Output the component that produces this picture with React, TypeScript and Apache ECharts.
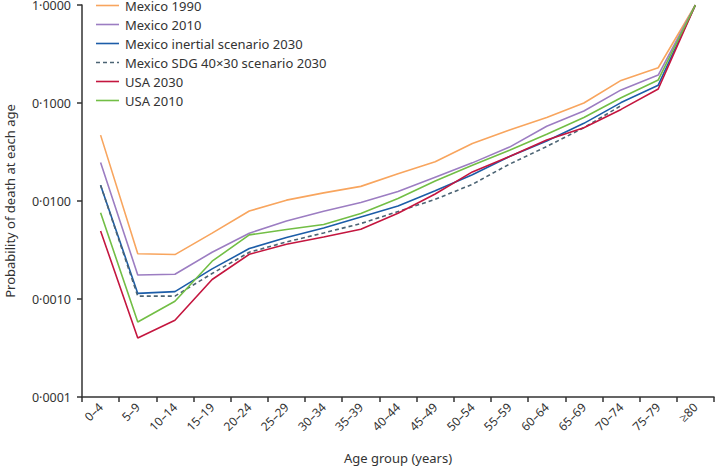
import React, { useEffect, useRef } from "react";
import * as echarts from "echarts";

const ageGroups = ["0–4", "5–9", "10–14", "15–19", "20–24", "25–29", "30–34", "35–39", "40–44", "45–49", "50–54", "55–59", "60–64", "65–69", "70–74", "75–79", "≥80"];

const mexico1990 = [0.047, 0.0029, 0.00284, 0.0047, 0.0079, 0.0102, 0.0121, 0.0141, 0.019, 0.0252, 0.0386, 0.053, 0.071, 0.1, 0.17, 0.229, 1.0];
const mexico2010 = [0.0247, 0.00176, 0.00179, 0.003, 0.00469, 0.00626, 0.00787, 0.00965, 0.0125, 0.0175, 0.0245, 0.0355, 0.058, 0.083, 0.136, 0.193, 1.0];
const mexicoInertial2030 = [0.0145, 0.00114, 0.00119, 0.00203, 0.00327, 0.00424, 0.00531, 0.00688, 0.0089, 0.0127, 0.0185, 0.0285, 0.041, 0.062, 0.101, 0.152, 1.0];
const mexicoSdg2030 = [0.0145, 0.00107, 0.00107, 0.00182, 0.003, 0.00382, 0.00472, 0.00589, 0.0078, 0.0104, 0.0148, 0.0238, 0.036, 0.056, 0.094, null, null];
const usa2030 = [0.00495, 0.0004, 0.000606, 0.00158, 0.00286, 0.00362, 0.0043, 0.00515, 0.0075, 0.0118, 0.0198, 0.0285, 0.042, 0.056, 0.086, 0.139, 1.0];
const usa2010 = [0.0076, 0.000582, 0.00095, 0.00243, 0.00451, 0.00512, 0.00575, 0.00745, 0.0106, 0.016, 0.0232, 0.033, 0.048, 0.071, 0.113, 0.172, 1.0];

const seriesDefs = [
  { name: "Mexico 1990", data: mexico1990, color: "#F8A55E", dashed: false },
  { name: "Mexico 2010", data: mexico2010, color: "#9C7DC2", dashed: false },
  { name: "Mexico inertial scenario 2030", data: mexicoInertial2030, color: "#1C5DA8", dashed: false },
  { name: "Mexico SDG 40×30 scenario 2030", data: mexicoSdg2030, color: "#4C6474", dashed: true },
  { name: "USA 2030", data: usa2030, color: "#C4163F", dashed: false },
  { name: "USA 2010", data: usa2010, color: "#72BE45", dashed: false },
];

const FONT = "'Noto Sans', 'Open Sans', sans-serif";
const TEXT = "#333333";
const DASH = [4, 3];

export default function App() {
  const ref = useRef<HTMLDivElement>(null);
  useEffect(() => {
    if (!ref.current) return;
    const chart = echarts.init(ref.current, undefined, { renderer: "svg" });
    const legendGraphics: any[] = [];
    seriesDefs.forEach((s, i) => {
      const yc = 5.5 + i * 19;
      legendGraphics.push({
        type: "line",
        shape: { x1: 96, y1: yc, x2: 119, y2: yc },
        style: { stroke: s.color, lineWidth: 1.6, lineDash: s.dashed ? DASH : null },
        silent: true,
      });
      legendGraphics.push({
        type: "text",
        x: 125,
        y: yc,
        style: { text: s.name, fill: TEXT, font: `13px ${FONT}`, verticalAlign: "middle", align: "left" },
        silent: true,
      });
    });
    chart.setOption({
      animation: false,
      textStyle: { fontFamily: FONT },
      graphic: legendGraphics,
      grid: { left: 82, right: 1, top: 5, bottom: 71, containLabel: false, outerBoundsMode: "none" },
      xAxis: {
        type: "category",
        data: ageGroups,
        boundaryGap: true,
        name: "Age group (years)",
        nameLocation: "middle",
        nameGap: 54,
        nameTextStyle: { fontFamily: FONT, fontSize: 13, color: TEXT },
        axisLine: { lineStyle: { color: "#333", width: 1.5 } },
        axisTick: { show: true, length: 5, interval: 0, lineStyle: { color: "#333", width: 1.5 } },
        axisLabel: { interval: 0, rotate: 45, margin: 8, fontFamily: FONT, fontSize: 12, color: TEXT },
        splitLine: { show: false },
      },
      yAxis: {
        type: "log",
        logBase: 10,
        min: 0.0001,
        max: 1,
        name: "Probability of death at each age",
        nameLocation: "middle",
        nameGap: 66,
        nameTextStyle: { fontFamily: FONT, fontSize: 13, color: TEXT },
        axisLine: { show: true, lineStyle: { color: "#333", width: 1.5 } },
        axisTick: { show: true, length: 5, lineStyle: { color: "#333", width: 1.5 } },
        axisLabel: {
          margin: 11,
          fontFamily: FONT,
          fontSize: 12.5,
          color: TEXT,
          formatter: (v: number) => v.toFixed(4).replace(".", "·"),
        },
        splitLine: { show: false },
      },
      series: seriesDefs.map((s) => ({
        name: s.name,
        type: "line",
        data: s.data,
        symbol: "none",
        connectNulls: false,
        itemStyle: { color: s.color },
        lineStyle: { color: s.color, width: 1.6, type: s.dashed ? DASH : "solid" },
      })),
    });
    return () => chart.dispose();
  }, []);
  return (
    <div
      ref={ref}
      style={{ position: "absolute", left: 0, top: 0, width: 715, height: 468 }}
    />
  );
}
